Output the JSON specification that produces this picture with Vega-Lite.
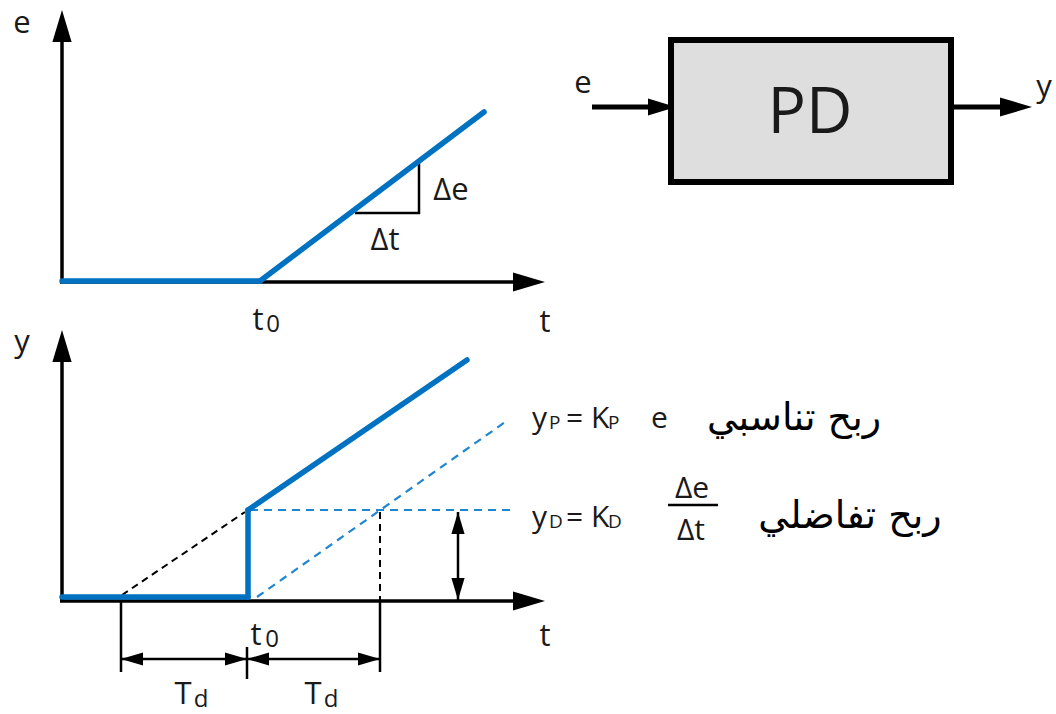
{
  "$schema": "https://vega.github.io/schema/vega-lite/v6.json",
  "width": 1056,
  "height": 714,
  "padding": 0,
  "autosize": {"type": "none"},
  "background": "white",
  "config": {"view": {"stroke": null}},
  "datasets": {
    "segments": [
      {"kind": "axis", "x": 62, "y": 283, "x2": 62, "y2": 36},
      {"kind": "axis", "x": 60, "y": 282, "x2": 518, "y2": 282},
      {"kind": "axis", "x": 62, "y": 602, "x2": 62, "y2": 356},
      {"kind": "axis", "x": 60, "y": 601, "x2": 518, "y2": 601},
      {"kind": "flow", "x": 592, "y": 107, "x2": 655, "y2": 107},
      {"kind": "flow", "x": 951, "y": 107, "x2": 1004, "y2": 107},
      {"kind": "thin", "x": 419, "y": 161, "x2": 419, "y2": 214},
      {"kind": "thin", "x": 355, "y": 213, "x2": 420, "y2": 213},
      {"kind": "thin", "x": 121, "y": 601, "x2": 121, "y2": 672},
      {"kind": "thin", "x": 247, "y": 647, "x2": 247, "y2": 679},
      {"kind": "thin", "x": 380, "y": 601, "x2": 380, "y2": 672},
      {"kind": "thin", "x": 121, "y": 659, "x2": 380, "y2": 659},
      {"kind": "thin", "x": 458, "y": 512, "x2": 458, "y2": 600},
      {"kind": "thin", "x": 668, "y": 505, "x2": 718, "y2": 505},
      {"kind": "blue", "x": 62, "y": 281, "x2": 260, "y2": 281},
      {"kind": "blue", "x": 260, "y": 281, "x2": 484, "y2": 112},
      {"kind": "blue", "x": 62, "y": 597, "x2": 248, "y2": 597},
      {"kind": "blue", "x": 248, "y": 597, "x2": 248, "y2": 510},
      {"kind": "blue", "x": 248, "y": 510, "x2": 467, "y2": 360},
      {"kind": "bluedash", "x": 250, "y": 510, "x2": 510, "y2": 510},
      {"kind": "bluedash", "x": 257, "y": 597, "x2": 508, "y2": 420},
      {"kind": "blackdash", "x": 122, "y": 595, "x2": 245, "y2": 512},
      {"kind": "blackdash", "x": 380, "y": 512, "x2": 380, "y2": 601}
    ],
    "arrows": [
      {"kind": "big", "dir": "up", "x": 62, "y": 10},
      {"kind": "big", "dir": "right", "x": 545, "y": 282},
      {"kind": "big", "dir": "up", "x": 62, "y": 330},
      {"kind": "big", "dir": "right", "x": 545, "y": 601},
      {"kind": "big", "dir": "right", "x": 1032, "y": 107},
      {"kind": "mid", "dir": "right", "x": 676, "y": 107},
      {"kind": "small", "dir": "left", "x": 121, "y": 659},
      {"kind": "small", "dir": "right", "x": 247, "y": 659},
      {"kind": "small", "dir": "left", "x": 247, "y": 659},
      {"kind": "small", "dir": "right", "x": 380, "y": 659},
      {"kind": "small", "dir": "up", "x": 458, "y": 512},
      {"kind": "small", "dir": "down", "x": 458, "y": 600}
    ],
    "box": [
      {"x": 671, "y": 40, "x2": 951, "y2": 182}
    ],
    "texts": [
      {"kind": "lbl", "text": "e", "x": 22, "y": 33},
      {"kind": "lbl", "text": "t", "x": 545, "y": 332},
      {"kind": "lbl", "text": "t", "x": 258, "y": 330},
      {"kind": "sub", "text": "0", "x": 273, "y": 332},
      {"kind": "lbl", "text": "Δe", "x": 451, "y": 200},
      {"kind": "lbl", "text": "Δt", "x": 385, "y": 250},
      {"kind": "lbl", "text": "y", "x": 22, "y": 352},
      {"kind": "lbl", "text": "t", "x": 545, "y": 646},
      {"kind": "lbl", "text": "t", "x": 256, "y": 645},
      {"kind": "sub", "text": "0", "x": 272, "y": 647},
      {"kind": "lbl", "text": "T", "x": 183, "y": 704},
      {"kind": "sub", "text": "d", "x": 201, "y": 707},
      {"kind": "lbl", "text": "T", "x": 313, "y": 704},
      {"kind": "sub", "text": "d", "x": 331, "y": 707},
      {"kind": "lbl", "text": "e", "x": 583, "y": 93},
      {"kind": "lbl", "text": "y", "x": 1044, "y": 97},
      {"kind": "pd", "text": "PD", "x": 810, "y": 133},
      {"kind": "frm", "text": "y", "x": 532, "y": 428},
      {"kind": "fsub", "text": "P", "x": 549, "y": 429},
      {"kind": "frm", "text": "=", "x": 566, "y": 428},
      {"kind": "frm", "text": "K", "x": 591, "y": 428},
      {"kind": "fsub", "text": "P", "x": 608, "y": 429},
      {"kind": "frm", "text": "e", "x": 651, "y": 428},
      {"kind": "frm", "text": "y", "x": 532, "y": 527},
      {"kind": "fsub", "text": "D", "x": 549, "y": 528},
      {"kind": "frm", "text": "=", "x": 566, "y": 527},
      {"kind": "frm", "text": "K", "x": 591, "y": 527},
      {"kind": "fsub", "text": "D", "x": 608, "y": 528},
      {"kind": "frac", "text": "Δe", "x": 692, "y": 498},
      {"kind": "frac", "text": "Δt", "x": 691, "y": 540},
      {"kind": "ar", "text": "ربح تناسبي", "x": 794, "y": 430},
      {"kind": "ar", "text": "ربح تفاضلي", "x": 850, "y": 528}
    ]
  },
  "encoding": {
    "x": {"field": "x", "type": "quantitative", "scale": {"domain": [0, 1056], "nice": false, "zero": false}, "axis": null},
    "y": {"field": "y", "type": "quantitative", "scale": {"domain": [0, 714], "reverse": true, "nice": false, "zero": false}, "axis": null}
  },
  "layer": [
    {
      "data": {"name": "segments"},
      "transform": [{"filter": "datum.kind === 'axis'"}],
      "mark": {"type": "rule", "color": "black", "strokeWidth": 3.5},
      "encoding": {"x2": {"field": "x2"}, "y2": {"field": "y2"}}
    },
    {
      "data": {"name": "segments"},
      "transform": [{"filter": "datum.kind === 'flow'"}],
      "mark": {"type": "rule", "color": "black", "strokeWidth": 5},
      "encoding": {"x2": {"field": "x2"}, "y2": {"field": "y2"}}
    },
    {
      "data": {"name": "segments"},
      "transform": [{"filter": "datum.kind === 'thin'"}],
      "mark": {"type": "rule", "color": "black", "strokeWidth": 2.5},
      "encoding": {"x2": {"field": "x2"}, "y2": {"field": "y2"}}
    },
    {
      "data": {"name": "segments"},
      "transform": [{"filter": "datum.kind === 'blackdash'"}],
      "mark": {"type": "rule", "color": "black", "strokeWidth": 2, "strokeDash": [7, 5]},
      "encoding": {"x2": {"field": "x2"}, "y2": {"field": "y2"}}
    },
    {
      "data": {"name": "segments"},
      "transform": [{"filter": "datum.kind === 'bluedash'"}],
      "mark": {"type": "rule", "color": "#1f86d2", "strokeWidth": 2.2, "strokeDash": [8, 6]},
      "encoding": {"x2": {"field": "x2"}, "y2": {"field": "y2"}}
    },
    {
      "data": {"name": "segments"},
      "transform": [{"filter": "datum.kind === 'blue'"}],
      "mark": {"type": "rule", "color": "#0072c1", "strokeWidth": 5.5, "strokeCap": "round"},
      "encoding": {"x2": {"field": "x2"}, "y2": {"field": "y2"}}
    },
    {
      "data": {"name": "arrows"},
      "transform": [{"filter": "datum.kind === 'big'"}],
      "mark": {"type": "point", "filled": true, "color": "black", "opacity": 1, "size": 1024},
      "encoding": {
        "shape": {"field": "dir", "type": "nominal", "legend": null,
          "scale": {"domain": ["up", "down", "left", "right"], "range": ["M0,0L0.6,2L-0.6,2Z", "M0,0L0.6,-2L-0.6,-2Z", "M0,0L2,0.6L2,-0.6Z", "M0,0L-2,0.6L-2,-0.6Z"]}}
      }
    },
    {
      "data": {"name": "arrows"},
      "transform": [{"filter": "datum.kind === 'mid'"}],
      "mark": {"type": "point", "filled": true, "color": "black", "opacity": 1, "size": 784},
      "encoding": {
        "shape": {"field": "dir", "type": "nominal", "legend": null,
          "scale": {"domain": ["up", "down", "left", "right"], "range": ["M0,0L0.6,2L-0.6,2Z", "M0,0L0.6,-2L-0.6,-2Z", "M0,0L2,0.6L2,-0.6Z", "M0,0L-2,0.6L-2,-0.6Z"]}}
      }
    },
    {
      "data": {"name": "arrows"},
      "transform": [{"filter": "datum.kind === 'small'"}],
      "mark": {"type": "point", "filled": true, "color": "black", "opacity": 1, "size": 484},
      "encoding": {
        "shape": {"field": "dir", "type": "nominal", "legend": null,
          "scale": {"domain": ["up", "down", "left", "right"], "range": ["M0,0L0.6,2L-0.6,2Z", "M0,0L0.6,-2L-0.6,-2Z", "M0,0L2,0.6L2,-0.6Z", "M0,0L-2,0.6L-2,-0.6Z"]}}
      }
    },
    {
      "data": {"name": "box"},
      "mark": {"type": "rect", "fill": "#dedede", "stroke": "black", "strokeWidth": 6},
      "encoding": {"x2": {"field": "x2"}, "y2": {"field": "y2"}}
    },
    {
      "data": {"name": "texts"},
      "transform": [{"filter": "datum.kind === 'lbl'"}],
      "mark": {"type": "text", "font": "Open Sans", "fontSize": 31, "align": "center", "baseline": "alphabetic", "color": "#1a1a1a"},
      "encoding": {"text": {"field": "text"}}
    },
    {
      "data": {"name": "texts"},
      "transform": [{"filter": "datum.kind === 'sub'"}],
      "mark": {"type": "text", "font": "Open Sans", "fontSize": 24, "align": "center", "baseline": "alphabetic", "color": "#1a1a1a"},
      "encoding": {"text": {"field": "text"}}
    },
    {
      "data": {"name": "texts"},
      "transform": [{"filter": "datum.kind === 'pd'"}],
      "mark": {"type": "text", "font": "Open Sans", "fontSize": 64, "align": "center", "baseline": "alphabetic", "color": "#1a1a1a"},
      "encoding": {"text": {"field": "text"}}
    },
    {
      "data": {"name": "texts"},
      "transform": [{"filter": "datum.kind === 'frm'"}],
      "mark": {"type": "text", "font": "Open Sans", "fontSize": 30, "align": "left", "baseline": "alphabetic", "color": "#1a1a1a"},
      "encoding": {"text": {"field": "text"}}
    },
    {
      "data": {"name": "texts"},
      "transform": [{"filter": "datum.kind === 'fsub'"}],
      "mark": {"type": "text", "font": "Open Sans", "fontSize": 19, "align": "left", "baseline": "alphabetic", "color": "#1a1a1a"},
      "encoding": {"text": {"field": "text"}}
    },
    {
      "data": {"name": "texts"},
      "transform": [{"filter": "datum.kind === 'frac'"}],
      "mark": {"type": "text", "font": "Open Sans", "fontSize": 30, "align": "center", "baseline": "alphabetic", "color": "#1a1a1a"},
      "encoding": {"text": {"field": "text"}}
    },
    {
      "data": {"name": "texts"},
      "transform": [{"filter": "datum.kind === 'ar'"}],
      "mark": {"type": "text", "font": "DejaVu Sans", "fontSize": 38, "align": "center", "baseline": "alphabetic", "color": "black"},
      "encoding": {"text": {"field": "text"}}
    }
  ]
}
